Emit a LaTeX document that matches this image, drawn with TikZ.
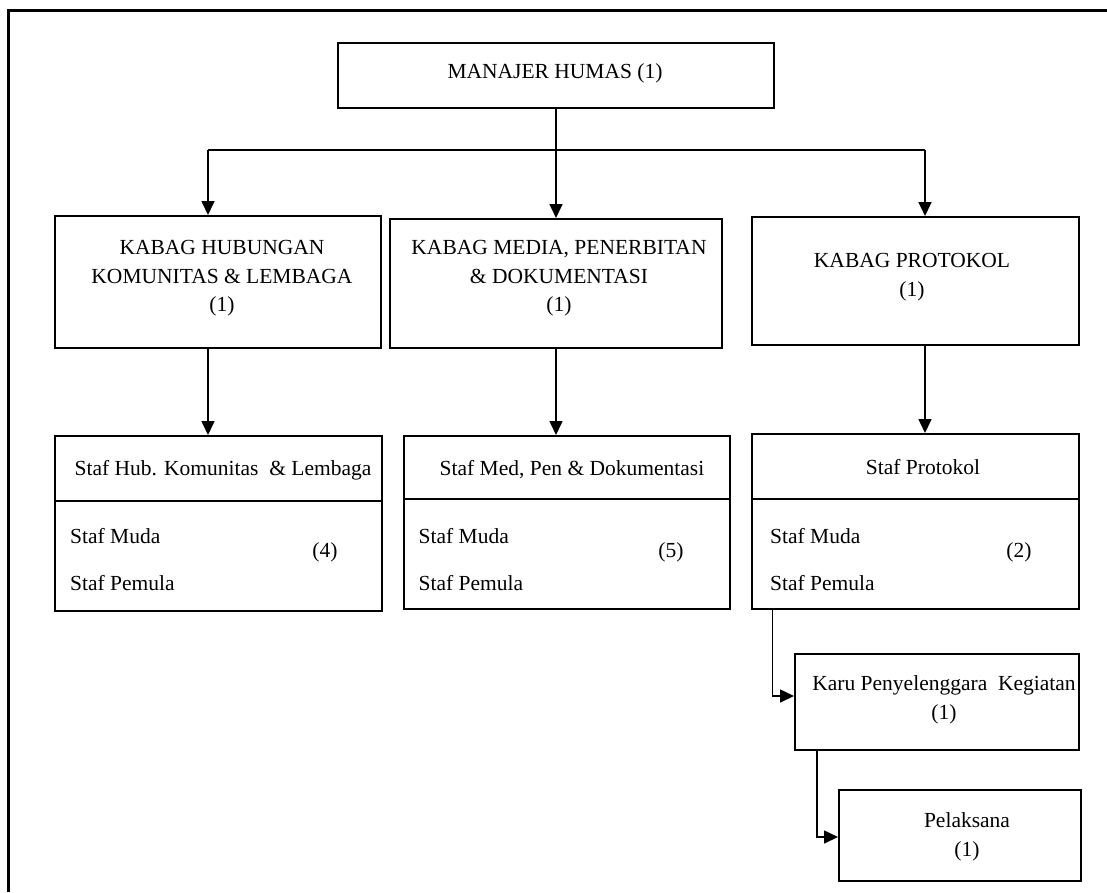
\documentclass[tikz,border=0pt]{standalone}
\usepackage{fontspec}
\setmainfont{Liberation Serif}
\usetikzlibrary{arrows.meta}
\begin{document}
\begin{tikzpicture}[x=1pt,y=-1pt,
  box/.style={draw, line width=2pt, inner sep=0pt, anchor=north west},
  lbl/.style={font=\fontsize{21.5}{28.5}\selectfont, inner sep=0pt, align=center},
  lft/.style={lbl, anchor=west},
  conn/.style={line width=1.6pt, -{Triangle[length=14pt,width=13pt]}},
  plain/.style={line width=1.6pt},
  divider/.style={line width=2pt}]
\useasboundingbox (0,0) rectangle (1107,892);
\fill[white] (0,0) rectangle (1107,892);
% outer frame
\coordinate (fbl) at (8.5,892);
\coordinate (ftl) at (8.5,10);
\coordinate (ftr) at (1107,10);
\draw[line width=3pt] (fbl) -- (ftl) -- (ftr);

% boxes
\node[box, minimum width=436pt, minimum height=65pt] (mgr) at (337,42) {};
\node[box, minimum width=326pt, minimum height=132pt] (kb1) at (54,215) {};
\node[box, minimum width=332pt, minimum height=129pt] (kb2) at (389,218) {};
\node[box, minimum width=327pt, minimum height=128pt] (kb3) at (751,216) {};
\node[box, minimum width=327pt, minimum height=175pt] (st1) at (54,435) {};
\node[box, minimum width=326.5pt, minimum height=173pt] (st2) at (402.5,435) {};
\node[box, minimum width=327pt, minimum height=175pt] (st3) at (751,433) {};
\node[box, minimum width=284pt, minimum height=96pt] (karu) at (794,653) {};
\node[box, minimum width=242pt, minimum height=91pt] (pel) at (838,789) {};

% dividers in staff boxes
\coordinate (d1) at (0,501);
\coordinate (d2) at (0,499);
\draw[divider] (st1.west |- d1) -- (st1.east |- d1);
\draw[divider] (st2.west |- d2) -- (st2.east |- d2);
\draw[divider] (st3.west |- d2) -- (st3.east |- d2);

% texts
\node[lbl] (tmgr) at (555,73) {MANAJER HUMAS (1)};
\node[lbl] (tkb1) at (222,278.5) {KABAG HUBUNGAN\\KOMUNITAS \& LEMBAGA\\(1)};
\node[lbl] (tkb2) at (559,278.5) {KABAG MEDIA, PENERBITAN\\\& DOKUMENTASI\\(1)};
\node[lbl] (tkb3) at (912,277) {KABAG PROTOKOL\\(1)};

\node[lbl] (tst1) at (223,470) {Staf Hub. Komunitas~ \& Lembaga};
\node[lft] (m1) at (70,536) {Staf Muda};
\node[lft] (p1) at (70,583) {Staf Pemula};
\node[lbl] (n1) at (325,552) {(4)};

\node[lbl] (tst2) at (572,470) {Staf Med, Pen \& Dokumentasi};
\node[lft] (m2) at (418.5,536) {Staf Muda};
\node[lft] (p2) at (418.5,583) {Staf Pemula};
\node[lbl] (n2) at (671,552) {(5)};

\node[lbl] (tst3) at (923,467) {Staf Protokol};
\node[lft] (m3) at (770,536) {Staf Muda};
\node[lft] (p3) at (770,583) {Staf Pemula};
\node[lbl] (n3) at (1019,552) {(2)};

\node[lbl] (tkaru) at (944,700) {Karu Penyelenggara~ Kegiatan\\(1)};
\node[lbl] (tpel) at (967,837) {Pelaksana\\(1)};

% connectors
\coordinate (j1) at (208,150);
\coordinate (j3) at (925,150);
\coordinate (k1) at (772.5,0);
\coordinate (k2) at (817,0);
\coordinate (ka) at (0,696);
\coordinate (pa) at (0,837);
\draw[conn] (mgr.south) -- (kb2.north);
\draw[plain] (j1) -- (j3);
\draw[conn] (j1) -- (j1 |- kb1.north);
\draw[conn] (j3) -- (j3 |- kb3.north);
\draw[conn] (j1 |- kb1.south) -- (j1 |- st1.north);
\draw[conn] (kb2.south) -- (st2.north -| kb2.south);
\draw[conn] (j3 |- kb3.south) -- (j3 |- st3.north);
\draw[conn] (k1 |- st3.south) |- (karu.west |- ka);
\draw[conn] (k2 |- karu.south) |- (pel.west |- pa);
\end{tikzpicture}
\end{document}
